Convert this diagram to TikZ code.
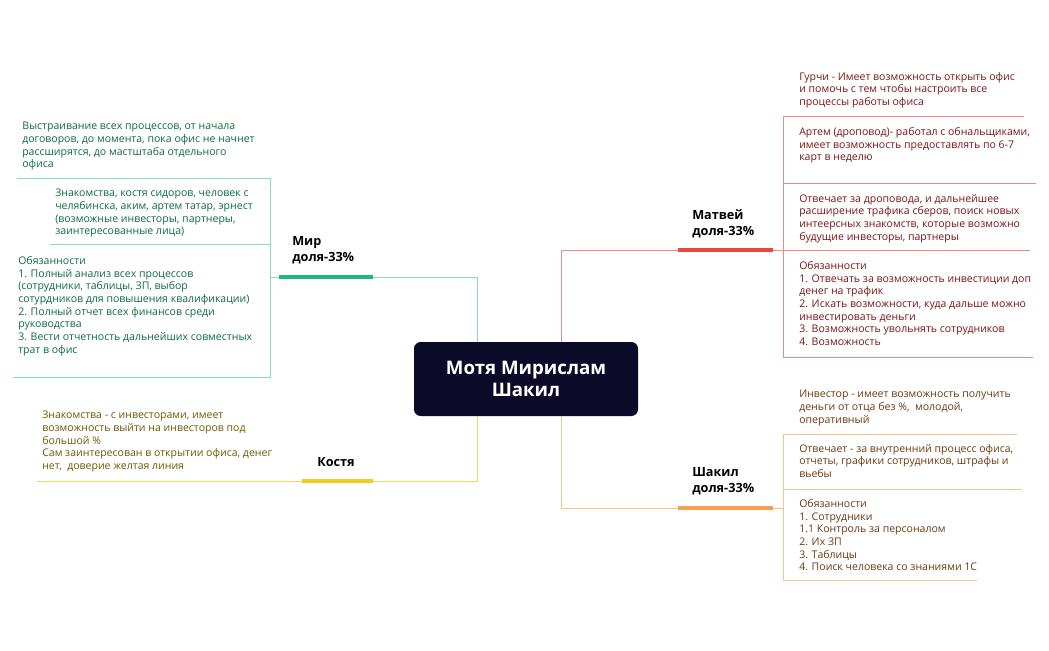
\documentclass[tikz,border=0pt]{standalone}
\usepackage{fontspec}
\setmainfont{Open Sans}
\usetikzlibrary{positioning}
\definecolor{navy}{HTML}{0B0A28}
\definecolor{mirC}{HTML}{1DB97A}\definecolor{mirL}{HTML}{86DDB6}\definecolor{mirT}{HTML}{0E6B3E}
\definecolor{matC}{HTML}{E8473E}\definecolor{matL}{HTML}{F08A8A}\definecolor{matT}{HTML}{7A1515}
\definecolor{shaC}{HTML}{F4A04E}\definecolor{shaL}{HTML}{F9C48A}\definecolor{shaT}{HTML}{6B3A10}
\definecolor{kosC}{HTML}{F2CC1A}\definecolor{kosL}{HTML}{F2DA60}\definecolor{kosT}{HTML}{6B5A00}
\tikzset{
  note/.style = {anchor=north west, inner sep=0pt, align=left, font=\fontsize{7.9}{9.5}\selectfont},
  who/.style = {anchor=north west, inner sep=0pt, align=left, font=\fontsize{9.5}{12}\selectfont\bfseries},
  bar/.style = {line width=3pt},
  link/.style = {line width=0.75pt},
}
\begin{document}
\begin{tikzpicture}[x=0.75pt, y=-0.75pt]
    \useasboundingbox (0,0) rectangle (1049,650);
    % centre
    \node[fill=navy, rounded corners=5pt, minimum width=168pt, minimum height=55.5pt, text=white,
          align=center, font=\fontsize{14}{17}\selectfont\bfseries] (root) at (526,379) {Мотя Мирислам\\Шакил};
    \coordinate (rootL) at (477,342);
    \coordinate (rootR) at (561,342);
    \coordinate (rootLb) at (477,416);
    \coordinate (rootRb) at (561,416);

    % Мир
    \coordinate (mirA) at (279,277); \coordinate (mirB) at (373,277);
    \node[who] (mir) at (292,236) {Мир\\доля-33\%};
    \draw[mirL, link] (rootL) |- (mirB);
    \draw[mirC, bar] (mirA) -- (mirB);
    \coordinate (mirK) at (270,277);
    \draw[mirL, link] (mirA) -- (mirK);
    \draw[mirL, link] (17,178) -| (270,377) -- (13,377);
    \draw[mirL, link] (50,244) -- (270,244);
    \node[note, text=mirT] (mir1) at (22,122) {Выстраивание всех процессов, от начала\\договоров, до момента, пока офис не начнет\\рассширятся, до мастштаба отдельного\\офиса};
    \node[note, text=mirT] (mir2) at (55,189) {Знакомства, костя сидоров, человек с\\челябинска, аким, артем татар, эрнест\\(возможные инвесторы, партнеры,\\заинтересованные лица)};
    \node[note, text=mirT] (mir3) at (18,256) {Обязанности\\1. Полный анализ всех процессов\\(сотрудники, таблицы, ЗП, выбор\\сотурдников для повышения квалификации)\\2. Полный отчет всех финансов среди\\руководства\\3. Вести отчетность дальнейших совместных\\трат в офис};

    % Костя
    \coordinate (kosA) at (302,481); \coordinate (kosB) at (373,481);
    \node[who] (kos) at (317,457) {Костя};
    \draw[kosL, link] (rootLb) |- (kosB);
    \draw[kosL, link] (kosA) -- (37,481);
    \draw[kosC, bar] (kosA) -- (kosB);
    \node[note, text=kosT] (kos1) at (42,411) {Знакомства - с инвесторами, имеет\\возможность выйти на инвесторов под\\большой \%\\Сам заинтересован в открытии офиса, денег\\нет,\ \ доверие желтая линия};

    % Матвей
    \coordinate (matA) at (678,250); \coordinate (matB) at (773,250);
    \node[who] (mat) at (692,209) {Матвей\\доля-33\%};
    \draw[matL, link] (rootR) |- (matA);
    \draw[matC, bar] (matA) -- (matB);
    \draw[matL, link] (matB) -- (1030,250);
    \draw[matL, link] (1024,116) -- (783,116) |- (1033,357);
    \draw[matL, link] (783,183) -- (1036,183);
    \node[note, text=matT] (mat1) at (799,72) {Гурчи - Имеет возможность открыть офис\\и помочь с тем чтобы настроить все\\процессы работы офиса};
    \node[note, text=matT] (mat2) at (799,127) {Артем (дроповод)- работал с обнальщиками,\\имеет возможность предоставлять по 6-7\\карт в неделю};
    \node[note, text=matT] (mat3) at (799,194) {Отвечает за дроповода, и дальнейшее\\расширение трафика сберов, поиск новых\\интеерсных знакомств, которые возможно\\будущие инвесторы, партнеры};
    \node[note, text=matT] (mat4) at (799,261) {Обязанности\\1. Отвечать за возможность инвестиции доп\\денег на трафик\\2. Искать возможности, куда дальше можно\\инвестировать деньги\\3. Возможность увольнять сотрудников\\4. Возможность};

    % Шакил
    \coordinate (shaA) at (678,508); \coordinate (shaB) at (773,508);
    \node[who] (sha) at (692,467) {Шакил\\доля-33\%};
    \draw[shaL, link] (rootRb) |- (shaA);
    \draw[shaC, bar] (shaA) -- (shaB);
    \draw[shaL, link] (shaB) -- (783,508);
    \draw[shaL, link] (1017,434) -- (783,434) |- (977,580);
    \draw[shaL, link] (783,489) -- (1022,489);
    \node[note, text=shaT] (sha1) at (799,390) {Инвестор - имеет возможность получить\\деньги от отца без \%,\ \ молодой,\\оперативный};
    \node[note, text=shaT] (sha2) at (799,444) {Отвечает - за внутренний процесс офиса,\\отчеты, графики сотрудников, штрафы и\\вьебы};
    \node[note, text=shaT] (sha3) at (799,499) {Обязанности\\1. Сотрудники\\1.1 Контроль за персоналом\\2. Их ЗП\\3. Таблицы\\4. Поиск человека со знаниями 1С};
\end{tikzpicture}
\end{document}
